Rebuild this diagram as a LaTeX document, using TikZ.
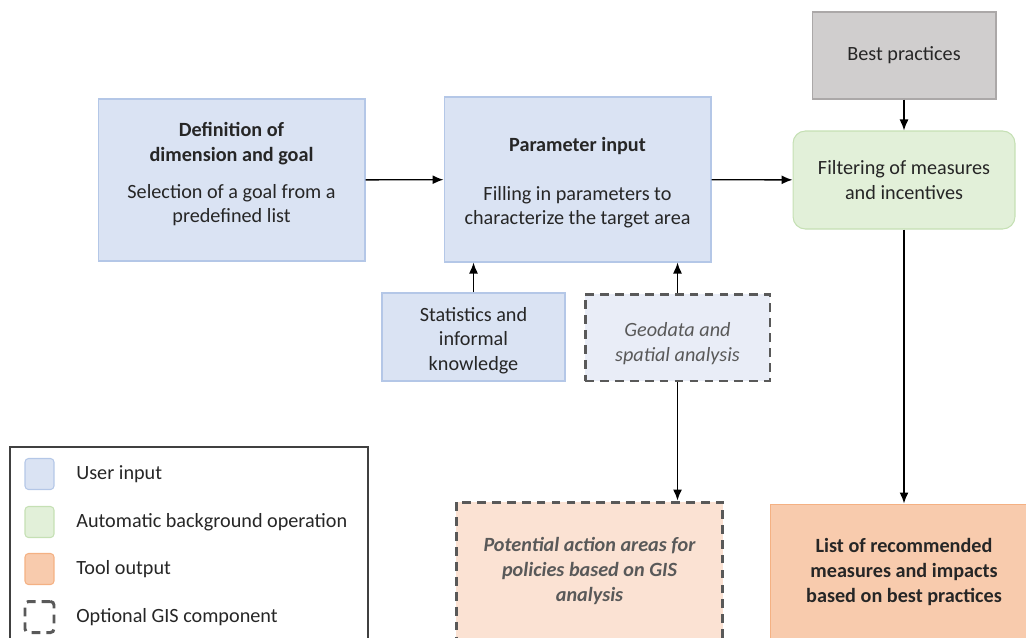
\documentclass[tikz,border=0pt]{standalone}
\usepackage{fontspec}
\setmainfont{Carlito}
\usepackage{xcolor}
\usepackage{tikz}
\usetikzlibrary{calc,arrows.meta}

\definecolor{userfill}{HTML}{DAE3F3}
\definecolor{userline}{HTML}{B4C7E7}
\definecolor{autofill}{HTML}{E2F0D9}
\definecolor{autoline}{HTML}{C5E0B4}
\definecolor{resfill}{HTML}{F8CBAD}
\definecolor{resline}{HTML}{F4B183}
\definecolor{gisfill}{HTML}{FBE2D3}
\definecolor{geofill}{HTML}{E9EDF7}
\definecolor{bestfill}{HTML}{D0CECE}
\definecolor{bestline}{HTML}{ABA8A8}
\definecolor{dashline}{HTML}{595959}
\definecolor{txt}{HTML}{262626}

\begin{document}
\begin{tikzpicture}[x=0.02cm, y=-0.02cm, font=\fontsize{11.5}{14}\selectfont, text=txt]
        \tikzstyle{box} = [rectangle, align=center, inner sep=2pt, line width=0.6pt]
        \tikzstyle{userbox} = [box, fill=userfill, draw=userline]
        \tikzstyle{autobox} = [box, fill=autofill, draw=autoline, rounded corners=7pt]
        \tikzstyle{resbox} = [box, fill=resfill, draw=resline]
        \tikzstyle{gisbox} = [box, draw=dashline, line width=1.7pt, dash pattern=on 5pt off 3.5pt]
        \tikzstyle{flow} = [-{Latex[length=2.2mm,width=1.8mm]}, line width=0.8pt, black]

        \clip (0,0) rectangle (1026,637);

        % main row
        \node[userbox, minimum width=5.34cm, minimum height=3.24cm] (goal) at (231.5,180)
                {\textbf{Definition of}\\\textbf{dimension and goal}\\[7pt]Selection of a goal from a\\predefined list\\[-5.5pt]};
        \node[userbox, minimum width=5.34cm, minimum height=3.3cm] (param) at (577.5,179.5)
                {\rule{0pt}{12pt}\textbf{Parameter input}\\[13.5pt]Filling in parameters to\\characterize the target area};
        \node[box, fill=bestfill, draw=bestline, minimum width=3.68cm, minimum height=1.74cm] (best) at (904,55.5)
                {Best practices};
        \node[autobox, minimum width=4.44cm, minimum height=1.96cm] (filter) at (904,180)
                {Filtering of measures\\and incentives};

        % inputs below the parameter box
        \node[userbox, minimum width=3.66cm, minimum height=1.76cm] (stats) at (473.5,337)
                {\rule{0pt}{12pt}Statistics and\\informal\\knowledge};
        \node[gisbox, fill=geofill, minimum width=3.7cm, minimum height=1.74cm, text=dashline] (geo) at (677.5,337.5)
                {\rule{0pt}{15pt}\itshape Geodata and\\\itshape spatial analysis};

        % outputs
        \node[gisbox, fill=gisfill, minimum width=5.34cm, minimum height=2.76cm, text=dashline] (areas) at (589.5,571)
                {\bfseries\itshape Potential action areas for\\\bfseries\itshape policies based on GIS\\\bfseries\itshape analysis};
        \node[resbox, minimum width=5.36cm, minimum height=2.72cm] (list) at (904,572)
                {\textbf{List of recommended}\\\textbf{measures and impacts}\\\textbf{based on best practices}};

        \draw[flow] (goal) -- (param);
        \draw[flow] (param) -- (filter);
        \draw[flow] (best) -- (filter);
        \draw[flow] (filter) -- (list);
        \draw[flow] (stats.north) -- (stats.north |- param.south);
        \draw[flow] (geo.north) -- (geo.north |- param.south);
        \draw[flow] (geo.south) -- (geo.south |- areas.north);

        % legend
        \draw[line width=0.8pt, draw=black!75] (10,447) rectangle (368,660);
        \foreach \sty/\lbl/\y in {userbox/User input/474, autobox/Automatic background operation/522,
                                  resbox/Tool output/569, gisbox/Optional GIS component/617}
        {
                \node[\sty, minimum width=0.58cm, minimum height=0.62cm, rounded corners=2pt] (key-\y) at (39.5,\y) {};
                \node[anchor=west, inner sep=0pt] (lbl-\y) at (76,\y) {\lbl};
        }
\end{tikzpicture}
\end{document}
